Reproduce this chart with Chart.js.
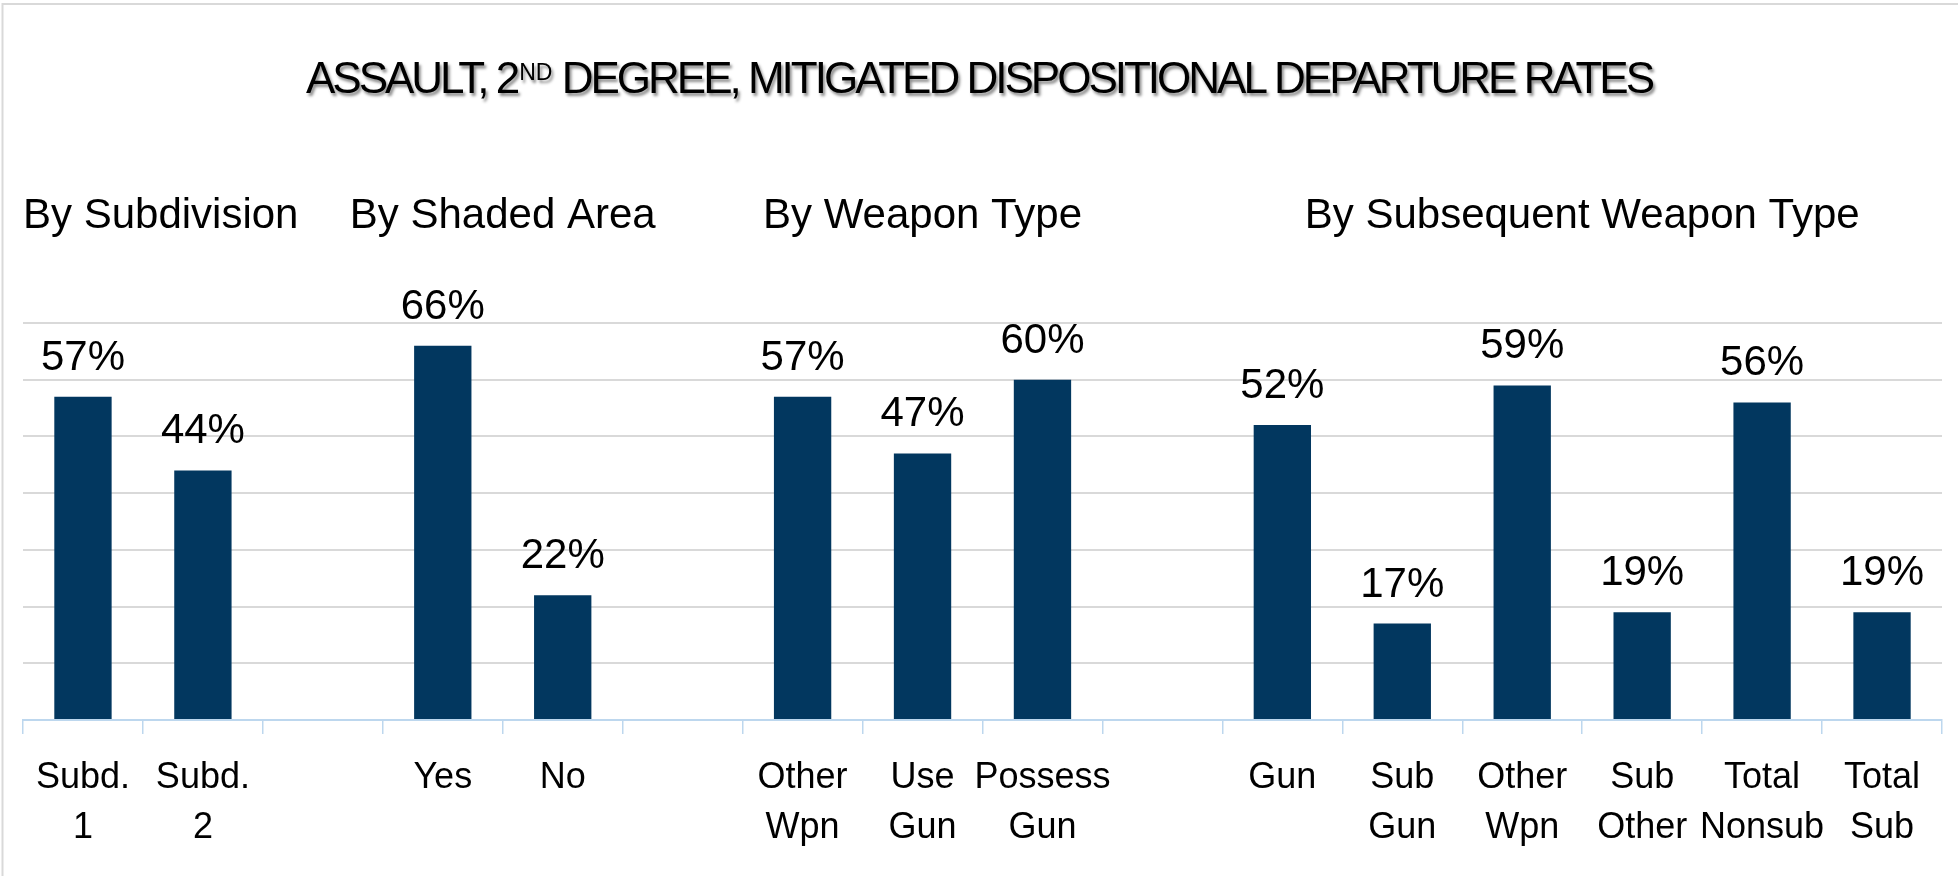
<!DOCTYPE html>
<html>
<head>
<meta charset="utf-8">
<script src="https://cdn.jsdelivr.net/npm/chart.js@4.4.1/dist/chart.umd.min.js"></script>
<style>
  html, body { margin: 0; padding: 0; background: #fff; }
  #wrap { width: 1958px; height: 876px; position: relative; }
</style>
</head>
<body>
<div id="wrap"><canvas id="chart"></canvas></div>
<script>
// Chart data
const categories = [
    ['Subd.', '1'], ['Subd.', '2'], '',
    'Yes', 'No', '',
    ['Other', 'Wpn'], ['Use', 'Gun'], ['Possess', 'Gun'], '',
    'Gun', ['Sub', 'Gun'], ['Other', 'Wpn'], ['Sub', 'Other'], ['Total', 'Nonsub'], ['Total', 'Sub']
];
const rates = [57, 44, null, 66, 22, null, 57, 47, 60, null, 52, 17, 59, 19, 56, 19];
const groupTitles = ['By Subdivision', 'By Shaded Area', 'By Weapon Type', 'By Subsequent Weapon Type'];
const groupOf = [0, 0, null, 1, 1, null, 2, 2, 2, null, 3, 3, 3, 3, 3, 3];
const yTicks = [0, 10, 20, 30, 40, 50, 60, 70];

const FONT = "'Liberation Sans', Arial, sans-serif";

// Title, group headers, value labels and the outer frame
const decorations = {
    id: 'decorations',
    afterDraw(chart) {
        const ctx = chart.ctx;
        const xs = chart.scales.x;
        const area = chart.chartArea;
        ctx.save();

        // frame
        ctx.strokeStyle = '#D9D9D9';
        ctx.lineWidth = 2;
        ctx.beginPath();
        ctx.moveTo(2.5, chart.height);
        ctx.lineTo(2.5, 4);
        ctx.lineTo(chart.width, 4);
        ctx.stroke();

        // title with superscript
        ctx.fillStyle = '#000';
        ctx.textBaseline = 'alphabetic';
        ctx.textAlign = 'left';
        ctx.shadowColor = 'rgba(0,0,0,0.45)';
        ctx.shadowOffsetX = 2;
        ctx.shadowOffsetY = 3;
        ctx.shadowBlur = 3;
        const big = '44px ' + FONT, small = '23px ' + FONT;
        const p1 = 'ASSAULT, 2', sup = 'ND', p2 = ' DEGREE, MITIGATED DISPOSITIONAL DEPARTURE RATES';
        ctx.letterSpacing = '-3px';
        ctx.font = big;
        const w1 = ctx.measureText(p1).width, w3 = ctx.measureText(p2).width;
        ctx.letterSpacing = '0px';
        ctx.font = small;
        const w2 = ctx.measureText(sup).width + 2;
        let tx = chart.width / 2 - (w1 + w2 + w3) / 2;
        const base = 93;
        ctx.letterSpacing = '-3px';
        ctx.font = big;
        ctx.fillText(p1, tx, base);
        tx += w1 + 2;
        ctx.letterSpacing = '0px';
        ctx.font = small;
        ctx.fillText(sup, tx, base - 13);
        tx += w2 - 2;
        ctx.letterSpacing = '-3px';
        ctx.font = big;
        ctx.fillText(p2, tx, base);
        ctx.letterSpacing = '0px';
        ctx.shadowColor = 'transparent';

        // group headers
        ctx.font = '42px ' + FONT;
        ctx.textAlign = 'center';
        groupTitles.forEach((t, g) => {
            const idx = [];
            groupOf.forEach((v, i) => { if (v === g) idx.push(i); });
            const cx = (xs.getPixelForValue(idx[0]) + xs.getPixelForValue(idx[idx.length - 1])) / 2;
            const w = ctx.measureText(t).width;
            ctx.fillText(t, Math.max(cx, area.left + w / 2), 228);
        });

        // value labels
        ctx.font = '42px ' + FONT;
        chart.getDatasetMeta(0).data.forEach((bar, i) => {
            if (rates[i] == null) return;
            ctx.fillText(rates[i] + '%', bar.x, bar.y - 27);
        });
        ctx.restore();
    }
};

const chart = new Chart(document.getElementById('chart'), {
    type: 'bar',
    data: {
        labels: categories,
        datasets: [{
            data: rates,
            backgroundColor: '#02375F',
            barPercentage: 0.478,
            categoryPercentage: 1
        }]
    },
    options: {
        responsive: true,
        maintainAspectRatio: false,
        animation: false,
        layout: { padding: { left: 23, right: 16, top: 323, bottom: 0 } },
        plugins: {
            legend: { display: false },
            tooltip: { enabled: false },
            title: { display: false }
        },
        scales: {
            x: {
                offset: true,
                grid: {
                    offset: true,
                    drawOnChartArea: false,
                    tickLength: 14,
                    color: '#BDD7EE',
                    lineWidth: 1.5
                },
                border: { color: '#BDD7EE', width: 2 },
                ticks: {
                    color: '#000',
                    font: { family: FONT, size: 36, lineHeight: 1.39 },
                    padding: 19,
                    maxRotation: 0,
                    autoSkip: false
                },
                afterFit: s => { s.height = 156; }
            },
            y: {
                min: yTicks[0],
                max: yTicks[yTicks.length - 1],
                ticks: { display: false, stepSize: 10 },
                grid: { color: '#D9D9D9', lineWidth: 2, drawTicks: false },
                border: { display: false },
                afterFit: s => { s.width = 0; }
            }
        }
    },
    plugins: [decorations]
});
</script>
</body>
</html>
